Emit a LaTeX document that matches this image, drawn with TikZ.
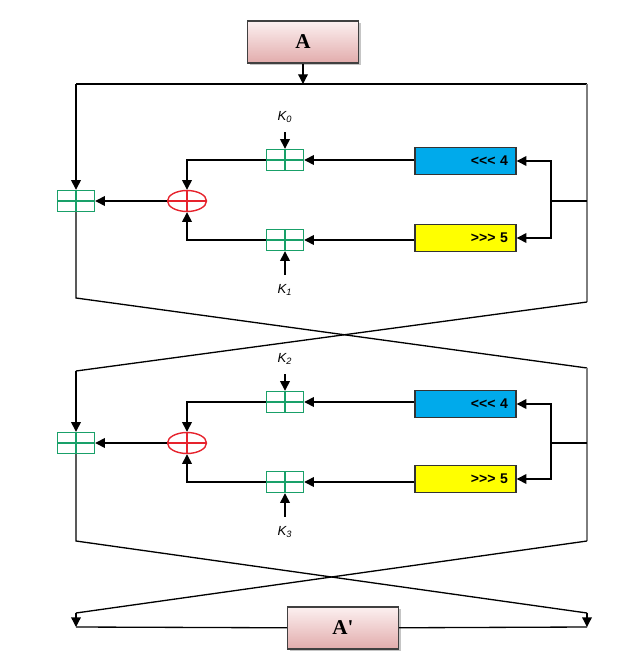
\documentclass[tikz,border=0pt]{standalone}
\usepackage{fontspec}
\newfontfamily\titlefont{Liberation Serif}
\newfontfamily\lab{Liberation Sans}
\usetikzlibrary{arrows.meta,shapes.geometric,shadows}
\definecolor{addgreen}{RGB}{25,160,105}
\definecolor{xorred}{RGB}{230,35,45}
\definecolor{rotblue}{RGB}{0,170,235}
\definecolor{rotyellow}{RGB}{255,255,0}
\definecolor{boxpink}{RGB}{226,172,172}
\definecolor{boxtop}{RGB}{252,240,240}
\definecolor{framegray}{RGB}{125,125,125}

\begin{document}
\begin{tikzpicture}[x=0.02cm,y=-0.02cm,line width=0.75pt,
    >={Triangle[length=5.5pt,width=5.5pt]},
    addbox/.style={draw=addgreen,line width=0.8pt,minimum width=0.74cm,minimum height=0.42cm,inner sep=0pt,
      path picture={\draw[addgreen,line width=0.6pt] (path picture bounding box.west) -- (path picture bounding box.east)
        (path picture bounding box.north) -- (path picture bounding box.south);}},
    xorring/.style={ellipse,draw=xorred,line width=0.8pt,minimum width=0.78cm,minimum height=0.42cm,inner sep=0pt,
      path picture={\draw[xorred,line width=0.8pt] (path picture bounding box.west) -- (path picture bounding box.east)
        (path picture bounding box.north) -- (path picture bounding box.south);}},
    rotbox/.style={draw=black!80,line width=0.8pt,minimum width=2.02cm,minimum height=0.53cm,
      text width=1.7cm,align=right,inner xsep=0.16cm,font=\lab\fontsize{8}{9}\selectfont\bfseries},
    pinkbox/.style={draw=black!75,line width=0.8pt,top color=boxtop,bottom color=boxpink,
      minimum width=2.22cm,minimum height=0.84cm,font=\titlefont\fontsize{12}{13}\selectfont\bfseries,
      drop shadow={shadow xshift=1.2pt,shadow yshift=-1.2pt,fill=black!45}},
    klabel/.style={font=\lab\fontsize{7.5}{8}\selectfont\itshape,inner sep=1pt}]
  \useasboundingbox (0,0) rectangle (640,655);

  \node[pinkbox] (A) at (303,42) {A};
  \node[pinkbox] (Ap) at (343,628) {A'};

  \coordinate (t1) at (303,84);
  \coordinate (tl) at (76,84);
  \coordinate (tr) at (587,84);
  \coordinate (b1l) at (76,298);
  \coordinate (b1r) at (587,302);
  \coordinate (c2l) at (76,371);
  \coordinate (c2r) at (587,368);
  \coordinate (b2l) at (76,541);
  \coordinate (b2r) at (587,541);
  \coordinate (d2l) at (76,613);
  \coordinate (d2r) at (587,613);
  \coordinate (el) at (76,627);
  \coordinate (er) at (587,627);

  % first round
  \node[addbox] (S0) at (76,201) {};
  \node[xorring] (X0) at (187,201) {};
  \node[addbox] (K0a) at (285,160) {};
  \node[addbox] (K1a) at (285,240) {};
  \node[rotbox,fill=rotblue] (R0) at (465.5,161) {<<< 4};
  \node[rotbox,fill=rotyellow] (R1) at (465.5,238) {>>> 5};
  \node[klabel] (k0) at (285,117) {K\textsubscript{0}};
  \node[klabel] (k1) at (285,290) {K\textsubscript{1}};
  \coordinate (m0) at (551,201);
  \coordinate (j0) at (587,201);

  % second round
  \node[addbox] (S1) at (76,443) {};
  \node[xorring] (X1) at (187,443) {};
  \node[addbox] (K2a) at (285,402) {};
  \node[addbox] (K3a) at (285,482) {};
  \node[rotbox,fill=rotblue] (R2) at (465.5,404) {<<< 4};
  \node[rotbox,fill=rotyellow] (R3) at (465.5,479) {>>> 5};
  \node[klabel] (k2) at (285,359) {K\textsubscript{2}};
  \node[klabel] (k3) at (285,532) {K\textsubscript{3}};
  \coordinate (m1) at (551,443);
  \coordinate (j1) at (587,443);

  \draw[->] (A) -- (t1);
  \draw (tl) -- (tr);
  \draw[->] (tl) -- (S0);
  \draw (S0) -- (b1l) -- (c2r);
  \draw[framegray] (tr) -- (b1r);
  \draw (b1r) -- (c2l);
  \draw (j0) -- (m0);
  \draw[->] (m0) |- (R0);
  \draw[->] (m0) |- (R1);
  \draw[->] (R0.west |- K0a) -- (K0a);
  \draw[->] (R1.west |- K1a) -- (K1a);
  \draw[->] (K0a) -| (X0);
  \draw[->] (K1a) -| (X0);
  \draw[->] (X0) -- (S0);
  \draw[->,shorten <=4pt] (k0) -- (K0a);
  \draw[->,shorten <=4pt] (k1) -- (K1a);

  \draw[->] (c2l) -- (S1);
  \draw (S1) -- (b2l) -- (d2r);
  \draw[framegray] (c2r) -- (b2r);
  \draw (b2r) -- (d2l);
  \draw (j1) -- (m1);
  \draw[->] (m1) |- (R2);
  \draw[->] (m1) |- (R3);
  \draw[->] (R2.west |- K2a) -- (K2a);
  \draw[->] (R3.west |- K3a) -- (K3a);
  \draw[->] (K2a) -| (X1);
  \draw[->] (K3a) -| (X1);
  \draw[->] (X1) -- (S1);
  \draw[->,shorten <=4pt] (k2) -- (K2a);
  \draw[->,shorten <=4pt] (k3) -- (K3a);

  \draw[->] (d2l) -- (el);
  \draw[->] (d2r) -- (er);
  \draw (el) -- (Ap);
  \draw (Ap) -- (er);
\end{tikzpicture}
\end{document}
